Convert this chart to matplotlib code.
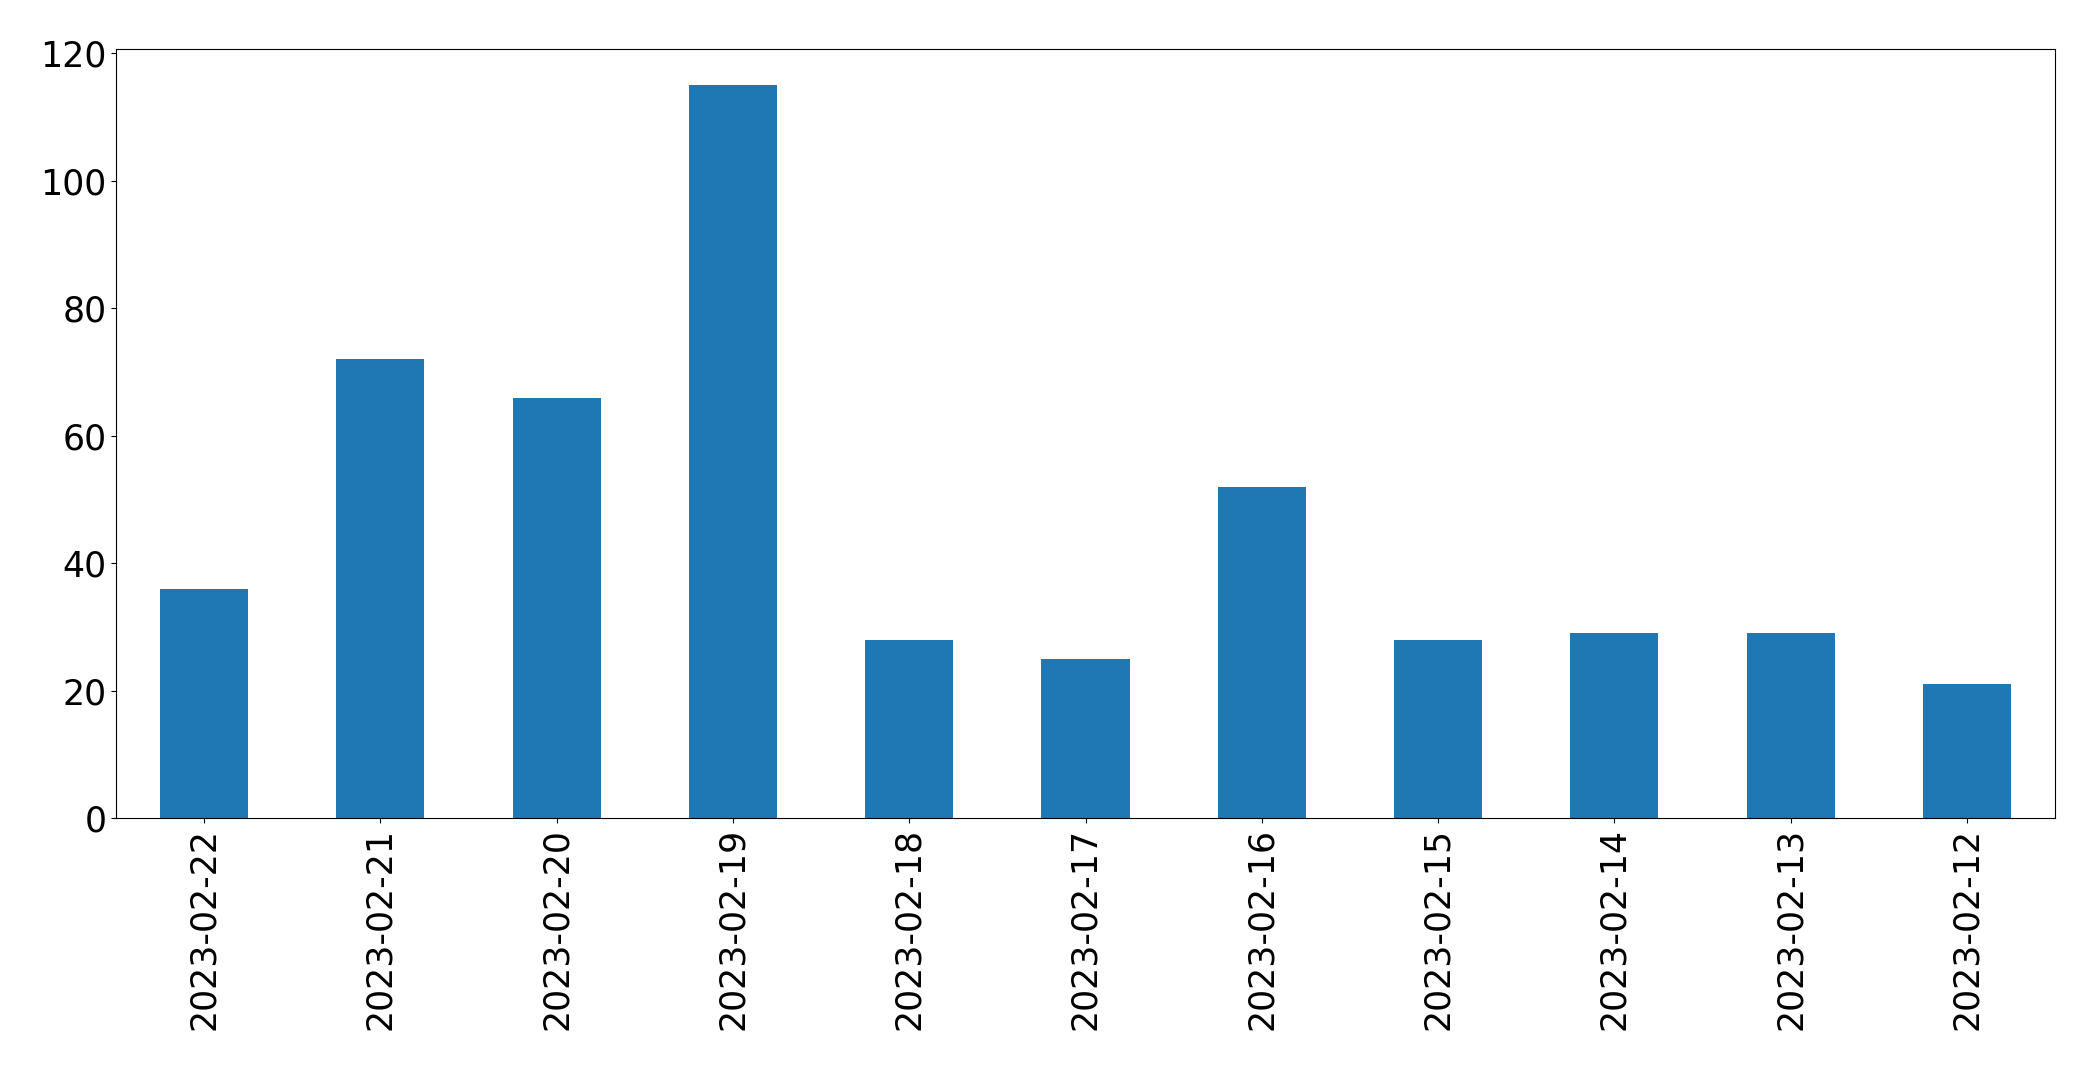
import matplotlib
matplotlib.use('Agg')
import matplotlib.pyplot as plt
import numpy as np

# Daily counts, newest first (as in the reference)
dates = ['2023-02-22', '2023-02-21', '2023-02-20', '2023-02-19', '2023-02-18',
         '2023-02-17', '2023-02-16', '2023-02-15', '2023-02-14', '2023-02-13',
         '2023-02-12']
counts = [36, 72, 66, 115, 28, 25, 52, 28, 29, 29, 21]

fig = plt.figure(figsize=(20.93, 10.70), dpi=100)
ax = fig.add_axes([116 / 2093, 1 - 818 / 1070, (2055 - 116) / 2093, (818 - 48.7) / 1070])

x = np.arange(len(dates))
ax.bar(x, counts, width=0.5, color='#1f77b4')
ax.set_xlim(-0.5, len(dates) - 0.5)
ax.set_xticks(x)
ax.set_xticklabels(dates, rotation=90)
ax.tick_params(labelsize=25)

fig.savefig('out.png', dpi=100)
